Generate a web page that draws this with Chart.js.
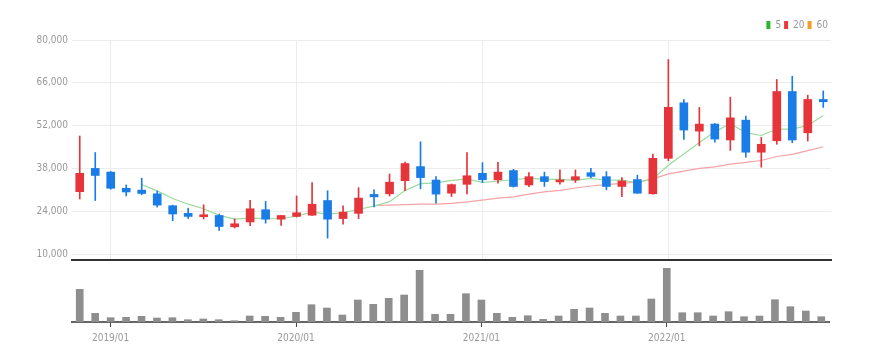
<!DOCTYPE html>
<html>
<head>
<meta charset="utf-8">
<script src="https://cdn.jsdelivr.net/npm/chart.js@4.4.1/dist/chart.umd.min.js"></script>
<style>
  html, body { margin: 0; padding: 0; background: #fff; }
  #wrap { width: 876px; height: 362px; position: relative; }
  canvas { display: block; }
</style>
</head>
<body>
<div id="wrap">
  <canvas id="price" width="876" height="262"></canvas>
  <canvas id="volume" width="876" height="100"></canvas>
</div>
<script>
var labels = ['2018/11', '2018/12',
    '2019/01', '2019/02', '2019/03', '2019/04', '2019/05', '2019/06', '2019/07', '2019/08', '2019/09', '2019/10', '2019/11', '2019/12',
    '2020/01', '2020/02', '2020/03', '2020/04', '2020/05', '2020/06', '2020/07', '2020/08', '2020/09', '2020/10', '2020/11', '2020/12',
    '2021/01', '2021/02', '2021/03', '2021/04', '2021/05', '2021/06', '2021/07', '2021/08', '2021/09', '2021/10', '2021/11', '2021/12',
    '2022/01', '2022/02', '2022/03', '2022/04', '2022/05', '2022/06', '2022/07', '2022/08', '2022/09', '2022/10', '2022/11'];

var opens = [30400, 38000, 36800, 31500, 30900, 29700, 25800, 23300, 22200, 22600, 18900, 20500, 24500, 21400,
    22300, 22700, 27500, 21600, 23300, 29500, 29700, 34000, 38600, 34200, 29900, 32800,
    36400, 34250, 37300, 32600, 35300, 33600, 34250, 36600, 35300, 32100, 34350, 29700,
    41300, 59450, 50200, 52500, 47300, 53800, 43300, 47050, 63150, 49650, 60550];
var highs = [48600, 43200, 37000, 32600, 34800, 30600, 26000, 25000, 26100, 23100, 21500, 27600, 27200, 22700,
    29000, 33400, 30700, 25800, 31700, 31000, 36200, 40100, 46700, 35300, 32900, 43150,
    39900, 40000, 37700, 36600, 36800, 37500, 37500, 38050, 36950, 35000, 35800, 42700,
    73600, 60550, 57950, 52700, 61300, 55100, 48150, 67100, 68150, 61950, 63350];
var lows = [28000, 27500, 31200, 29000, 29400, 25350, 20900, 21600, 21500, 17700, 18500, 19300, 20100, 19400,
    22100, 22600, 15200, 19800, 21600, 25450, 29000, 30700, 31300, 26650, 28800, 29700,
    33400, 33200, 31900, 32000, 32100, 32850, 33400, 35000, 31000, 28800, 29800, 29600,
    40500, 47500, 45400, 46600, 43900, 41650, 38400, 45900, 46400, 46950, 57950];
var closes = [36400, 35700, 31500, 30300, 29800, 26000, 23100, 22300, 22800, 19000, 19900, 24800, 21400, 22600,
    23500, 26300, 21400, 23700, 28300, 28700, 33500, 39600, 35000, 29600, 32700, 35600,
    34300, 36800, 32100, 35300, 33700, 34150, 35300, 35400, 32100, 33900, 29900, 41300,
    58000, 50550, 52500, 47600, 54550, 43300, 45900, 63150, 47300, 60550, 59800];

// moving averages
var ma5 = [null, null, null, null, 32740, 30660, 28140, 26300, 24800, 22640, 21420, 21760, 21580, 21540,
    22440, 23720, 23040, 23500, 24640, 25680, 27120, 30760, 33020, 33280, 34080, 34500,
    33440, 33800, 34300, 34820, 34440, 34410, 34110, 34770, 34130, 34170, 33320, 34520,
    39040, 42730, 46450, 49990, 52640, 49700, 48770, 50900, 50840, 52040, 55340];
var ma20 = [null, null, null, null, null, null, null, null, null, null, null, null, null, null,
    null, null, null, null, null, 25875, 26000, 26150, 26300, 26350, 26600, 27050,
    27650, 28300, 28700, 29600, 30300, 30800, 31600, 32250, 32700, 33100, 33550, 34600,
    36200, 37100, 38000, 38500, 39400, 40000, 40600, 41900, 42600, 43800, 45100];
var ma60 = [];

var volumes = [327000, 87000, 43000, 47000, 57000, 40000, 43000, 23000, 30000, 23000, 13000, 60000, 57000, 47000,
    97000, 173000, 140000, 70000, 220000, 177000, 237000, 270000, 517000, 77000, 77000, 283000,
    220000, 87000, 47000, 63000, 27000, 60000, 127000, 140000, 87000, 60000, 60000, 230000,
    537000, 93000, 93000, 60000, 103000, 53000, 60000, 223000, 153000, 110000, 53000];

var yTicks = [10000, 24000, 38000, 52000, 66000, 80000];

var upColor = '#e5353b';
var downColor = '#1a7ce6';

Chart.defaults.font.family = "'Liberation Sans Narrow', 'DejaVu Sans Condensed', sans-serif";
Chart.defaults.font.size = 10;
Chart.defaults.color = '#999';

var candleColors = closes.map(function (c, i) { return c >= opens[i] ? upColor : downColor; });
var isJan = function (i) { return labels[i] && labels[i].slice(-2) === '01'; };

new Chart(document.getElementById('price'), {
    type: 'bar',
    data: {
        labels: labels,
        datasets: [
            {
                label: 'wick',
                data: lows.map(function (l, i) { return [l, highs[i]]; }),
                backgroundColor: candleColors,
                barThickness: 1,
                grouped: false,
                order: 1
            }, {
                label: 'body',
                data: opens.map(function (o, i) { return [o, closes[i]]; }),
                backgroundColor: candleColors,
                barThickness: 8,
                minBarLength: 2,
                grouped: false,
                order: 0
            }, {
                type: 'line',
                label: '5',
                data: ma5,
                borderColor: '#9bdb9b',
                borderWidth: 1.2,
                pointRadius: 0,
                legendColor: '#2db52d',
                order: 2
            }, {
                type: 'line',
                label: '20',
                data: ma20,
                borderColor: '#f4a3a6',
                borderWidth: 1.2,
                pointRadius: 0,
                legendColor: '#e8383d',
                order: 3
            }, {
                type: 'line',
                label: '60',
                data: ma60,
                borderColor: '#f7b45a',
                borderWidth: 1.2,
                pointRadius: 0,
                legendColor: '#f39c2c',
                order: 4
            }
        ]
    },
    options: {
        responsive: false,
        animation: false,
        layout: { padding: { top: 17, right: 45, left: 0, bottom: 0 } },
        plugins: {
            tooltip: { enabled: false },
            legend: {
                position: 'top',
                align: 'end',
                labels: {
                    boxWidth: 4,
                    boxHeight: 8,
                    padding: 3,
                    color: '#999',
                    font: { size: 10 },
                    generateLabels: function (chart) {
                        return chart.data.datasets
                            .map(function (d, i) { return { d: d, i: i }; })
                            .filter(function (o) { return o.d.legendColor; })
                            .map(function (o) {
                                return { text: o.d.label, fillStyle: o.d.legendColor, strokeStyle: o.d.legendColor, lineWidth: 0, datasetIndex: o.i, fontColor: '#999' };
                            });
                    }
                }
            }
        },
        scales: {
            x: {
                offset: true,
                grid: {
                    offset: false,
                    drawTicks: false,
                    color: function (ctx) { return isJan(ctx.index) ? '#ececec' : 'rgba(0,0,0,0)'; }
                },
                border: { color: '#333', width: 2 },
                ticks: { display: false },
                afterFit: function (scale) { scale.height = 2; }
            },
            y: {
                min: 8050,
                max: 80000,
                grid: { color: '#ececec', drawTicks: false },
                border: { display: false },
                ticks: {
                    padding: 4,
                    color: '#999',
                    callback: function (v) { return v.toLocaleString('en-US'); }
                },
                afterBuildTicks: function (scale) {
                    scale.ticks = yTicks.map(function (v) { return { value: v }; });
                },
                afterFit: function (scale) {
                    scale.width = 72;
                    scale.paddingTop = 0;
                    scale.paddingBottom = 0;
                }
            }
        }
    }
});

new Chart(document.getElementById('volume'), {
    type: 'bar',
    data: {
        labels: labels,
        datasets: [{
            label: 'volume',
            data: volumes,
            backgroundColor: '#8e8e8e',
            barThickness: 7
        }]
    },
    options: {
        responsive: false,
        animation: false,
        layout: { padding: { top: 0, right: 47, left: 72, bottom: 0 } },
        plugins: { legend: { display: false }, tooltip: { enabled: false } },
        scales: {
            x: {
                offset: true,
                grid: {
                    offset: false,
                    drawOnChartArea: false,
                    drawTicks: true,
                    tickLength: 5,
                    color: function (ctx) { return isJan(ctx.index) ? '#444' : 'rgba(0,0,0,0)'; }
                },
                border: { color: '#666', width: 2 },
                ticks: {
                    autoSkip: false,
                    maxRotation: 0,
                    padding: 5,
                    color: '#999',
                    callback: function (v, i) { return isJan(i) ? labels[i] : ''; }
                },
                afterFit: function (scale) { scale.height = 40; }
            },
            y: {
                display: false,
                min: 0,
                max: 600000
            }
        }
    }
});
</script>
</body>
</html>
